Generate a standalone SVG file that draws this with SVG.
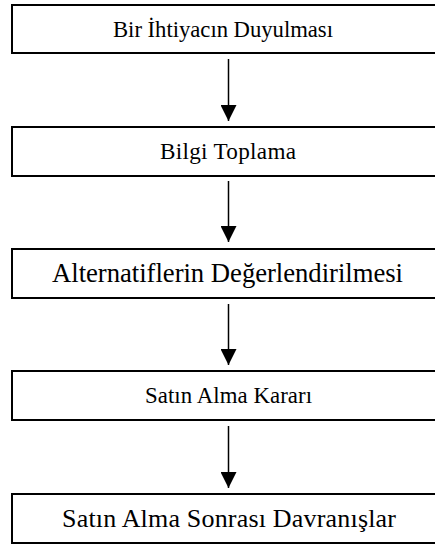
<svg xmlns="http://www.w3.org/2000/svg" width="435" height="545" viewBox="0 0 435 545">
<style>
.box{fill:#fff;stroke:#000;stroke-width:2}
.lbl{font-family:'Liberation Serif','Times New Roman',serif;fill:#000;text-anchor:middle}
.conn{stroke:#000;stroke-width:1.5;fill:none}
</style>
<defs>
<marker id="ah" markerUnits="userSpaceOnUse" markerWidth="16" markerHeight="16" viewBox="0 0 16 16" refX="16" refY="8" orient="auto">
<path d="M0,0 L16,8 L0,16 Z" fill="#000"/>
</marker>
</defs>
<rect width="435" height="545" fill="#fff"/>
<g id="n1"><rect class="box" x="12" y="5" width="440" height="48"/><text class="lbl" x="223" y="36.5" font-size="22.7" textLength="220" lengthAdjust="spacing">Bir İhtiyacın Duyulması</text></g>
<g id="n2"><rect class="box" x="12" y="127" width="440" height="49"/><text class="lbl" x="228" y="159" font-size="23.2" textLength="136" lengthAdjust="spacing">Bilgi Toplama</text></g>
<g id="n3"><rect class="box" x="12" y="249" width="440" height="49"/><text class="lbl" x="227.5" y="282" font-size="26.7" textLength="351" lengthAdjust="spacing">Alternatiflerin Değerlendirilmesi</text></g>
<g id="n4"><rect class="box" x="12" y="371" width="440" height="49"/><text class="lbl" x="228.5" y="403" font-size="22.8" textLength="167" lengthAdjust="spacing">Satın Alma Kararı</text></g>
<g id="n5"><rect class="box" x="12" y="494" width="440" height="49"/><text class="lbl" x="229" y="527" font-size="26" textLength="334" lengthAdjust="spacing">Satın Alma Sonrası  Davranışlar</text></g>
<g id="connectors">
<line class="conn" x1="228.5" y1="59" x2="228.5" y2="121" marker-end="url(#ah)"/>
<line class="conn" x1="228.5" y1="181" x2="228.5" y2="242" marker-end="url(#ah)"/>
<line class="conn" x1="228.5" y1="304" x2="228.5" y2="365" marker-end="url(#ah)"/>
<line class="conn" x1="228.5" y1="426" x2="228.5" y2="488" marker-end="url(#ah)"/>
</g>
</svg>
